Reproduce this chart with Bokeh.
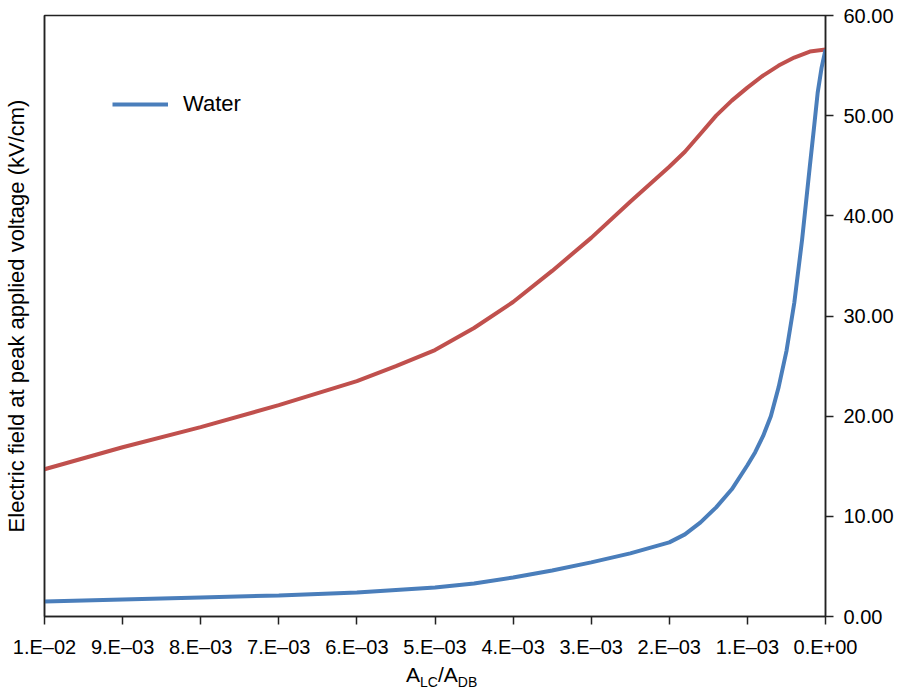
from bokeh.plotting import figure
from bokeh.models import Range1d, LinearAxis, FixedTicker, Legend, Div
from bokeh.layouts import column
from bokeh.embed import file_html
from bokeh.resources import INLINE

# ---- data ----
ratio_red = [0.01, 0.009, 0.008, 0.007, 0.006, 0.0055, 0.005, 0.0045, 0.004, 0.0035,
             0.003, 0.0025, 0.002, 0.0018, 0.0016, 0.0014, 0.0012, 0.001, 0.0008,
             0.0006, 0.0004, 0.0002, 0.0]
field_red = [14.7, 16.9, 18.9, 21.1, 23.5, 25.0, 26.6, 28.8, 31.4, 34.5,
             37.8, 41.4, 44.9, 46.4, 48.2, 50.0, 51.5, 52.8, 54.0,
             55.0, 55.8, 56.4, 56.6]

ratio_water = [0.01, 0.009, 0.008, 0.007, 0.006, 0.005, 0.0045, 0.004, 0.0035, 0.003,
               0.0025, 0.002, 0.0018, 0.0016, 0.0014, 0.0012, 0.001, 0.0009, 0.0008,
               0.0007, 0.0006, 0.0005, 0.0004, 0.0003, 0.0002, 0.00015, 0.0001,
               0.00005, 0.0]
field_water = [1.5, 1.7, 1.9, 2.1, 2.4, 2.9, 3.3, 3.9, 4.6, 5.4,
               6.3, 7.4, 8.2, 9.4, 10.9, 12.7, 15.1, 16.4, 18.0,
               20.0, 22.9, 26.5, 31.3, 37.6, 45.0, 48.6, 52.3,
               54.8, 56.6]

x_ticks = [0.01, 0.009, 0.008, 0.007, 0.006, 0.005, 0.004, 0.003, 0.002, 0.001, 0.0]
x_tick_labels = ["1.E\u201302", "9.E\u201303", "8.E\u201303", "7.E\u201303", "6.E\u201303",
                 "5.E\u201303", "4.E\u201303", "3.E\u201303", "2.E\u201303", "1.E\u201303",
                 "0.E+00"]
y_ticks = [0, 10, 20, 30, 40, 50, 60]
y_tick_labels = ["0.00", "10.00", "20.00", "30.00", "40.00", "50.00", "60.00"]

FONT = "Liberation Sans"
AXC = "#222222"
BLUE = "#4a7ebb"
RED = "#c0504d"

p = figure(width=899, height=660, output_backend="svg", toolbar_location=None,
           x_range=Range1d(0.01, 0.0), y_range=Range1d(0, 60),
           y_axis_location="right",
           min_border_left=44, min_border_right=74, min_border_top=15, min_border_bottom=44)
p.grid.visible = False
p.outline_line_color = AXC
p.outline_line_width = 1.5
p.background_fill_color = "white"
p.border_fill_color = "white"

# bottom axis
xa = p.xaxis[0]
xa.ticker = FixedTicker(ticks=x_ticks)
xa.major_label_overrides = {t: l for t, l in zip(x_ticks, x_tick_labels)}
xa.major_tick_in = 0
xa.major_tick_out = 8
xa.minor_tick_line_color = None
xa.axis_line_color = AXC
xa.axis_line_width = 1.5
xa.major_tick_line_color = AXC
xa.major_tick_line_width = 1.5
xa.major_label_text_font = FONT
xa.major_label_text_font_size = "20px"
xa.major_label_text_color = "black"
xa.major_label_standoff = 11

# right axis
ya = p.yaxis[0]
ya.ticker = FixedTicker(ticks=y_ticks)
ya.major_label_overrides = {t: l for t, l in zip(y_ticks, y_tick_labels)}
ya.major_tick_in = 0
ya.major_tick_out = 8
ya.minor_tick_line_color = None
ya.axis_line_color = AXC
ya.axis_line_width = 1.5
ya.major_tick_line_color = AXC
ya.major_tick_line_width = 1.5
ya.major_label_text_font = FONT
ya.major_label_text_font_size = "20px"
ya.major_label_text_color = "black"
ya.major_label_standoff = 10

# left axis: only the title
la = LinearAxis(ticker=FixedTicker(ticks=[]),
                axis_label="Electric field at peak applied voltage (kV/cm)",
                axis_label_text_font=FONT, axis_label_text_font_size="22px",
                axis_label_text_font_style="normal", axis_label_text_color="black",
                axis_label_standoff=16, major_tick_out=0, major_tick_in=0,
                minor_tick_line_color=None, axis_line_color=AXC, axis_line_width=1.5)
p.add_layout(la, "left")

# curves
p.line(ratio_red, field_red, line_color=RED, line_width=4)
rw = p.line(ratio_water, field_water, line_color=BLUE, line_width=4)

legend = Legend(items=[("Water", [rw])], location=(68, 499),
                glyph_width=56, glyph_height=20, label_standoff=15,
                padding=0, margin=0, border_line_color=None,
                background_fill_alpha=0,
                label_text_font=FONT, label_text_font_size="22px", label_text_color="black")
p.add_layout(legend, "center")

# x axis title with subscripts
xtitle = Div(text='A<sub style="font-size:14px">LC</sub>/A<sub style="font-size:14px">DB</sub>',
             width=120, height=28, margin=(4, 0, 0, 406),
             styles={"font-family": FONT, "font-size": "21px", "color": "black",
                     "line-height": "22px", "overflow": "visible"})

layout = column(p, xtitle, spacing=0)
open("out.html", "w").write(file_html(layout, INLINE))
